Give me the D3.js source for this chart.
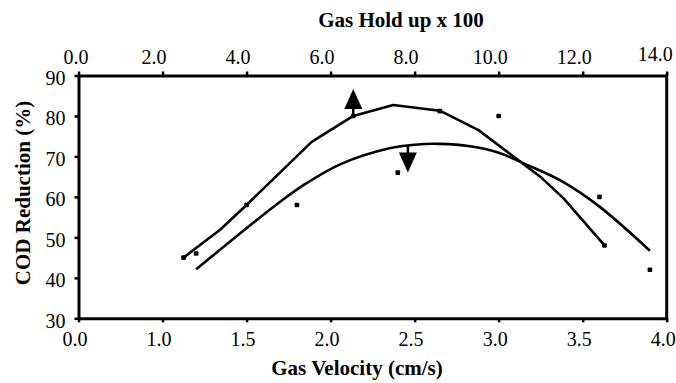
<!DOCTYPE html>
<html>
<head>
<meta charset="utf-8">
<script src="https://cdn.jsdelivr.net/npm/d3@7"></script>
<style>
  html, body { margin: 0; padding: 0; background: #fff; }
  svg { display: block; }
  text { font-family: "Liberation Serif", "Times New Roman", Times, serif; fill: #000; }
</style>
</head>
<body>
<svg id="chart" width="676" height="383"></svg>
<script>
// COD reduction vs gas velocity (bottom axis) and gas hold-up (top axis)

// Bottom axis: gas velocity (cm/s)
const velocityTicks = [0.5, 1.0, 1.5, 2.0, 2.5, 3.0, 3.5, 4.0];
const velocityTickLabels = ["0.0", "1.0", "1.5", "2.0", "2.5", "3.0", "3.5", "4.0"];

// Top axis: gas hold-up x 100
const holdupTicks = [0, 2, 4, 6, 8, 10, 12, 14];
const holdupTickLabels = ["0.0", "2.0", "4.0", "6.0", "8.0", "10.0", "12.0", "14.0"];

// Left axis: COD reduction (%)
const codTicks = [30, 40, 50, 60, 70, 80, 90];

// Measured COD reduction against gas velocity
const velocityPoints = [
  [1.2, 46], [1.8, 58], [2.4, 66], [3.0, 80], [3.6, 60], [3.9, 42]
];
// Trend line for the velocity data
const velocityTrend = [
  [1.2, 42.1], [1.45, 50.6], [1.7, 58.8], [1.85, 63.2], [2.06, 68.1],
  [2.35, 72.0], [2.5, 72.9], [2.65, 73.1], [2.83, 72.5], [3.0, 70.9],
  [3.17, 67.9], [3.37, 64.0], [3.6, 57.6], [3.9, 46.7]
];

// Measured COD reduction against gas hold-up
const holdupPoints = [
  [2.5, 45], [4.0, 58], [6.54, 80], [8.6, 81.2], [12.52, 48]
];
// Line joining the hold-up data
const holdupLine = [
  [2.5, 45], [3.37, 51.9], [4.0, 58], [5.55, 73.6], [6.54, 80],
  [7.49, 82.7], [8.6, 81.3], [9.52, 76.5], [10.99, 65.0], [11.54, 59.7], [12.52, 48]
];

// Arrow anchors: which curve reads off which axis
const upArrowAt = [6.54, 80];     // on the hold-up line -> top axis
const downArrowAt = [2.46, 72.7]; // on the velocity trend -> bottom axis

const svg = d3.select("#chart");
const plotLeft = 78.5, plotRight = 666.7, plotTop = 75.5, plotBottom = 318.3;

const xVel = d3.scaleLinear().domain([0.5, 4.0]).range([plotLeft, plotRight]);
const xHold = d3.scaleLinear().domain([0, 14]).range([plotLeft, plotRight]);
const y = d3.scaleLinear().domain([30, 90]).range([plotBottom, plotTop]);

const tickFont = 20;

// Bottom axis
const gBottom = svg.append("g")
  .attr("transform", `translate(0,${plotBottom})`)
  .call(d3.axisBottom(xVel)
    .tickValues(velocityTicks)
    .tickFormat((d, i) => velocityTickLabels[i])
    .tickSize(4).tickSizeOuter(0).tickPadding(10));

// Top axis
const gTop = svg.append("g")
  .attr("transform", `translate(0,${plotTop})`)
  .call(d3.axisTop(xHold)
    .tickValues(holdupTicks)
    .tickFormat((d, i) => holdupTickLabels[i])
    .tickSize(4).tickSizeOuter(0).tickPadding(8));

// Left axis
const gLeft = svg.append("g")
  .attr("transform", `translate(${plotLeft},0)`)
  .call(d3.axisLeft(y)
    .tickValues(codTicks)
    .tickFormat(d3.format("d"))
    .tickSize(4).tickSizeOuter(0).tickPadding(9));

[gBottom, gTop, gLeft].forEach(g => {
  g.select(".domain").attr("stroke", "#000").attr("stroke-width", 3);
  g.selectAll(".tick line").attr("stroke", "#000").attr("stroke-width", 2.5);
  g.selectAll(".tick text")
    .attr("font-size", tickFont)
    .attr("fill", "#000");
});

gBottom.selectAll(".tick text").attr("dx", -4);
gTop.selectAll(".tick text").attr("dx", (d, i) => i === 0 ? -3 : (i === holdupTicks.length - 1 ? -12 : -9))
  .attr("dy", (d, i) => i === holdupTicks.length - 1 ? -3 : 0);
gLeft.selectAll(".tick text").attr("dy", "0.45em");

// Right edge of the frame
svg.append("line")
  .attr("x1", xVel.range()[1]).attr("x2", xVel.range()[1])
  .attr("y1", y.range()[1] - 1.5).attr("y2", y.range()[0] + 1.5)
  .attr("stroke", "#000").attr("stroke-width", 3);

// Curves
const lineVel = d3.line()
  .x(d => xVel(d[0])).y(d => y(d[1]))
  .curve(d3.curveCatmullRom.alpha(0.5));
const lineHold = d3.line()
  .x(d => xHold(d[0])).y(d => y(d[1]));

svg.append("path")
  .datum(velocityTrend)
  .attr("d", lineVel)
  .attr("fill", "none").attr("stroke", "#000")
  .attr("stroke-width", 2.6).attr("stroke-linejoin", "round");

svg.append("path")
  .datum(holdupLine)
  .attr("d", lineHold)
  .attr("fill", "none").attr("stroke", "#000")
  .attr("stroke-width", 2.6).attr("stroke-linejoin", "round");

// Data markers
svg.append("g").selectAll("rect")
  .data(velocityPoints).join("rect")
  .attr("x", d => xVel(d[0]) - 2.3).attr("y", d => y(d[1]) - 2.3)
  .attr("width", 4.6).attr("height", 4.6).attr("rx", 1).attr("fill", "#000");

svg.append("g").selectAll("rect")
  .data(holdupPoints).join("rect")
  .attr("x", d => xHold(d[0]) - 2.3).attr("y", d => y(d[1]) - 2.3)
  .attr("width", 4.6).attr("height", 4.6).attr("rx", 1).attr("fill", "#000");

// Arrows
function arrow(px, py, dir) {
  // dir = -1 points up, +1 points down
  const stem = 7, head = 20, half = 9;
  const g = svg.append("g");
  g.append("line")
    .attr("x1", px).attr("x2", px)
    .attr("y1", py).attr("y2", py + dir * (stem + 1))
    .attr("stroke", "#000").attr("stroke-width", 2.5);
  const baseY = py + dir * stem;
  const tipY = baseY + dir * head;
  g.append("path")
    .attr("d", `M${px - half},${baseY}L${px + half},${baseY}L${px},${tipY}Z`)
    .attr("fill", "#000");
}
arrow(xHold(upArrowAt[0]), y(upArrowAt[1]), -1);
arrow(xVel(downArrowAt[0]), y(downArrowAt[1]), 1);

// Axis titles
svg.append("text")
  .attr("x", 401).attr("y", 27)
  .attr("text-anchor", "middle")
  .attr("font-size", 21).attr("font-weight", "bold")
  .text("Gas Hold up x 100");

svg.append("text")
  .attr("x", 357).attr("y", 375)
  .attr("text-anchor", "middle")
  .attr("font-size", 21).attr("font-weight", "bold")
  .text("Gas Velocity (cm/s)");

svg.append("text")
  .attr("transform", "translate(30,193) rotate(-90)")
  .attr("text-anchor", "middle")
  .attr("font-size", 21).attr("font-weight", "bold")
  .text("COD Reduction (%)");
</script>
</body>
</html>
